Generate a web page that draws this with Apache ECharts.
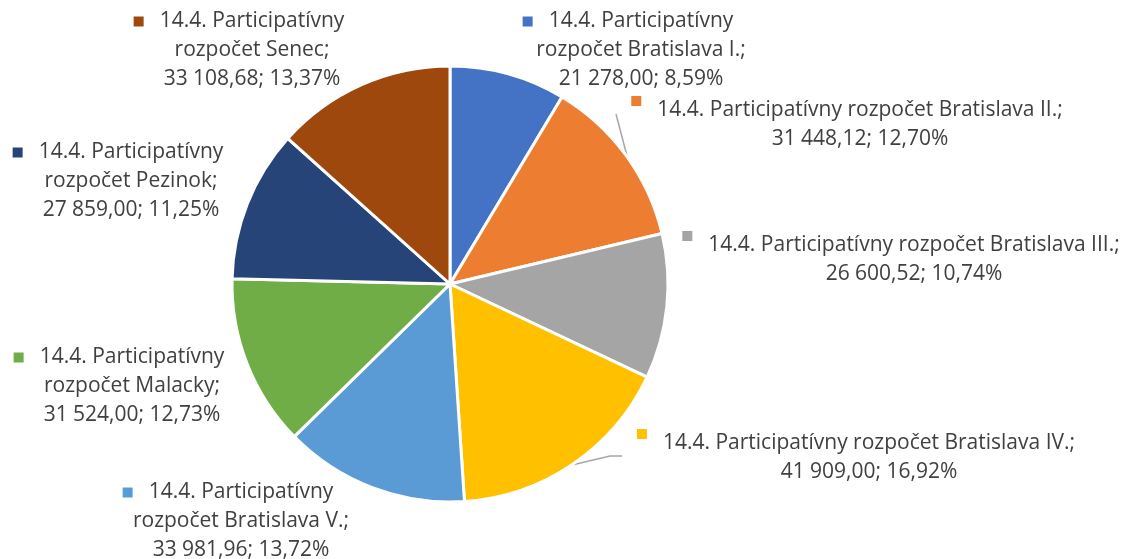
<!DOCTYPE html>
<html>
<head>
<meta charset="utf-8">
<script src="https://cdn.jsdelivr.net/npm/echarts@6/dist/echarts.min.js"></script>
<style>
  html, body { margin: 0; padding: 0; background: #fff; }
  #chart { width: 1139px; height: 559px; }
</style>
</head>
<body>
<div id="chart"></div>
<script>
// data
const names = [
  'Bratislava I.', 'Bratislava II.', 'Bratislava III.', 'Bratislava IV.',
  'Bratislava V.', 'Malacky', 'Pezinok', 'Senec'
];
const values = [21278.00, 31448.12, 26600.52, 41909.00, 33981.96, 31524.00, 27859.00, 33108.68];
const percents = ['8,59%', '12,70%', '10,74%', '16,92%', '13,72%', '12,73%', '11,25%', '13,37%'];
const oneLine = [false, true, true, true, false, false, false, false];

const colors = ['#4472C4', '#ED7D31', '#A5A5A5', '#FFC000', '#5B9BD5', '#70AD47', '#264478', '#9E480E'];

// label block placement (x = centre of text, y = top)
const labelPos = [
  [641, 7], [860, 96], [914, 231], [869, 429],
  [241, 478], [132, 343], [131, 138], [252, 7]
];
const leaders = {
  1: [[627, 156], [616, 114]],
  3: [[572, 465], [610, 456], [622, 456]]
};

const fmtNum = v => {
  const [i, d] = v.toFixed(2).split('.');
  return i.replace(/\B(?=(\d{3})+(?!\d))/g, ' ') + ',' + d;
};

const FONT = 'Open Sans';

const myChart = echarts.init(document.getElementById('chart'));

const data = names.map((n, i) => ({
  name: n,
  value: values[i],
  itemStyle: { color: colors[i] },
  labelLine: { show: !!leaders[i] },
  label: {
    rich: {
      m: {
        width: 10, height: 10, backgroundColor: colors[i],
        verticalAlign: oneLine[i] ? 'top' : 'middle'
      }
    }
  }
}));

const option = {
  backgroundColor: '#fff',
  animation: false,
  series: [{
    type: 'pie',
    center: [450, 284],
    radius: 218,
    startAngle: 90,
    clockwise: true,
    data: data,
    itemStyle: { borderColor: '#fff', borderWidth: 3 },
    labelLine: { lineStyle: { color: '#A6A6A6', width: 1.5 } },
    label: {
      show: true,
      position: 'outside',
      overflow: 'none',
      color: '#404040',
      fontFamily: FONT,
      fontSize: 21,
      lineHeight: 29,
      align: 'center',
      formatter: p => {
        const i = p.dataIndex;
        const tail = fmtNum(values[i]) + '; ' + percents[i];
        const first = oneLine[i]
          ? '14.4. Participatívny rozpočet ' + names[i] + ';'
          : '14.4. Participatívny';
        let s = '{m|}{g|}{t|' + first + '}{s|}';
        if (!oneLine[i]) s += '\n{t|rozpočet ' + names[i] + ';}';
        s += '\n{t|' + tail + '}';
        return s;
      },
      rich: {
        t: { color: '#404040', fontFamily: FONT, fontSize: 21, lineHeight: 29 },
        g: { width: 16 },
        s: { width: 26 }
      }
    },
    labelLayout: p => {
      const pos = labelPos[p.dataIndex];
      const out = { x: pos[0], y: pos[1], align: 'center', verticalAlign: 'top' };
      if (leaders[p.dataIndex]) out.labelLinePoints = leaders[p.dataIndex];
      return out;
    }
  }]
};

myChart.setOption(option);
</script>
</body>
</html>
